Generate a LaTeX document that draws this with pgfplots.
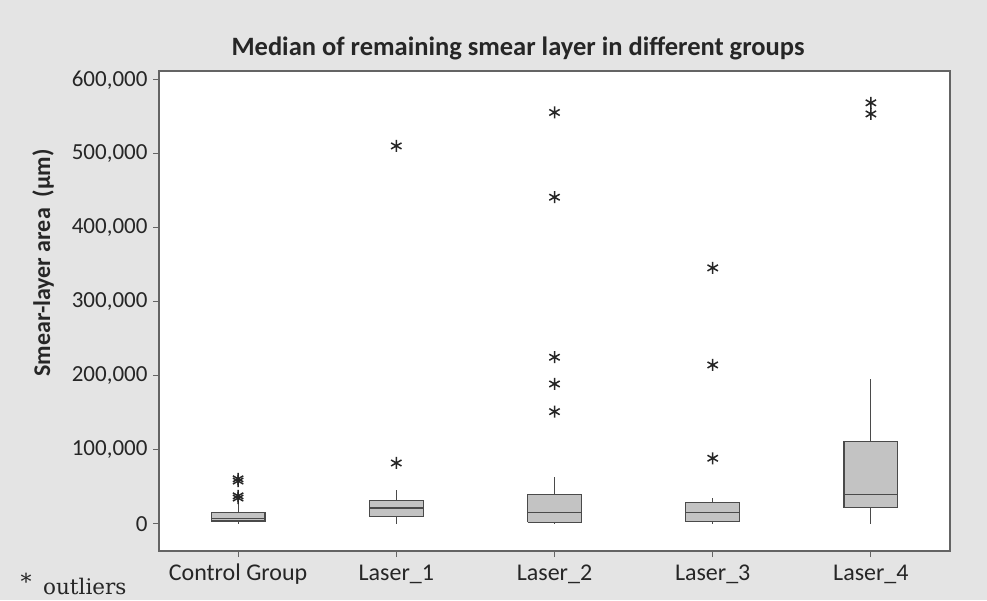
\documentclass[border=0pt]{standalone}
\usepackage{pgfplots}
\pgfplotsset{compat=1.18}
\usepackage{fontspec}
\setmainfont{Carlito}
\newfontfamily\serifout{DejaVu Serif}
\definecolor{bgc}{HTML}{E4E4E4}
\definecolor{boxfill}{HTML}{C3C3C3}
\definecolor{boxdraw}{HTML}{4A4A4A}
\definecolor{framec}{HTML}{646464}
\definecolor{txt}{HTML}{262626}
\pgfplotsset{
  bx/.style={draw=boxdraw, fill=boxfill, line width=1.1pt, line join=miter},
  wk/.style={draw=boxdraw, line width=1.1pt},
}
\begin{document}
\begin{tikzpicture}
\fill[bgc] (0pt,0pt) rectangle (987pt,600pt);
\useasboundingbox (0pt,0pt) rectangle (987pt,600pt);
% values in thousands of um
\begin{axis}[
  at={(159pt,49pt)}, anchor=south west,
  scale only axis, width=791pt, height=480pt,
  xmin=-0.5, xmax=4.5, ymin=-36.5, ymax=612,
  axis background/.style={fill=white},
  axis line style={draw=framec, line width=1.4pt},
  tick style={draw=framec, line width=1pt},
  tick align=outside, major tick length=6pt,
  xtick pos=bottom, ytick pos=left,
  xtick={0,1,2,3,4},
  xticklabels={Control Group, Laser\_1, Laser\_2, Laser\_3, Laser\_4},
  ytick={0,100,200,300,400,500,600},
  yticklabels={0,{100,000},{200,000},{300,000},{400,000},{500,000},{600,000}},
  xticklabel style={font=\fontsize{24}{28}\selectfont, text=txt, yshift=-3pt, text height=17pt, text depth=6pt},
  yticklabel style={font=\fontsize{23}{27}\selectfont, text=txt, xshift=-2pt},
]
% Control Group
\addplot[wk] coordinates {(0,0) (0,4)};
\addplot[wk] coordinates {(0,16) (0,27)};
\addplot[bx] coordinates {(-0.17,4) (0.17,4) (0.17,16) (-0.17,16) (-0.17,4)};
\addplot[wk] coordinates {(-0.17,7) (0.17,7)};
% Laser_1
\addplot[wk] coordinates {(1,0) (1,9.9)};
\addplot[wk] coordinates {(1,31.5) (1,45.9)};
\addplot[bx] coordinates {(0.83,9.9) (1.17,9.9) (1.17,31.5) (0.83,31.5) (0.83,9.9)};
\addplot[wk] coordinates {(0.83,21.6) (1.17,21.6)};
% Laser_2
\addplot[wk] coordinates {(2,0) (2,2.3)};
\addplot[wk] coordinates {(2,40.1) (2,63.9)};
\addplot[bx] coordinates {(1.83,2.3) (2.17,2.3) (2.17,40.1) (1.83,40.1) (1.83,2.3)};
\addplot[wk] coordinates {(1.83,15.3) (2.17,15.3)};
% Laser_3
\addplot[wk] coordinates {(3,0) (3,3.1)};
\addplot[wk] coordinates {(3,28.8) (3,34.7)};
\addplot[bx] coordinates {(2.83,3.1) (3.17,3.1) (3.17,28.8) (2.83,28.8) (2.83,3.1)};
\addplot[wk] coordinates {(2.83,15.3) (3.17,15.3)};
% Laser_4
\addplot[wk] coordinates {(4,0) (4,22)};
\addplot[wk] coordinates {(4,111.2) (4,195.9)};
\addplot[bx] coordinates {(3.83,22) (4.17,22) (4.17,111.2) (3.83,111.2) (3.83,22)};
\addplot[wk] coordinates {(3.83,40.1) (4.17,40.1)};
% outliers
\addplot[only marks, mark=asterisk, mark size=6pt, line width=1.5pt, black!85] coordinates {
 (0,61) (0,58) (0,38) (0,35)
 (1,82.4) (1,510.8)
 (2,556) (2,441.5) (2,225.3) (2,189.2) (2,151.8)
 (3,88.8) (3,214.9) (3,346)
 (4,569) (4,554)
};
\end{axis}
\node[anchor=base, font=\bfseries\fontsize{26.5}{30}\selectfont, text=txt] at (518pt,544pt) {Median of remaining smear layer in different groups};
\node[rotate=90, font=\bfseries\fontsize{24}{28}\selectfont, text=txt] at (43pt,337pt) {Smear-layer area\ \ (µm)};
\node[anchor=base, font=\serifout\fontsize{22}{26}\selectfont, text=txt, inner sep=0pt] at (26pt,10.5pt) {*};
\node[anchor=base west, font=\serifout\fontsize{21.5}{26}\selectfont, text=txt, inner sep=0pt] at (43pt,6pt) {outliers};
\end{tikzpicture}
\end{document}
